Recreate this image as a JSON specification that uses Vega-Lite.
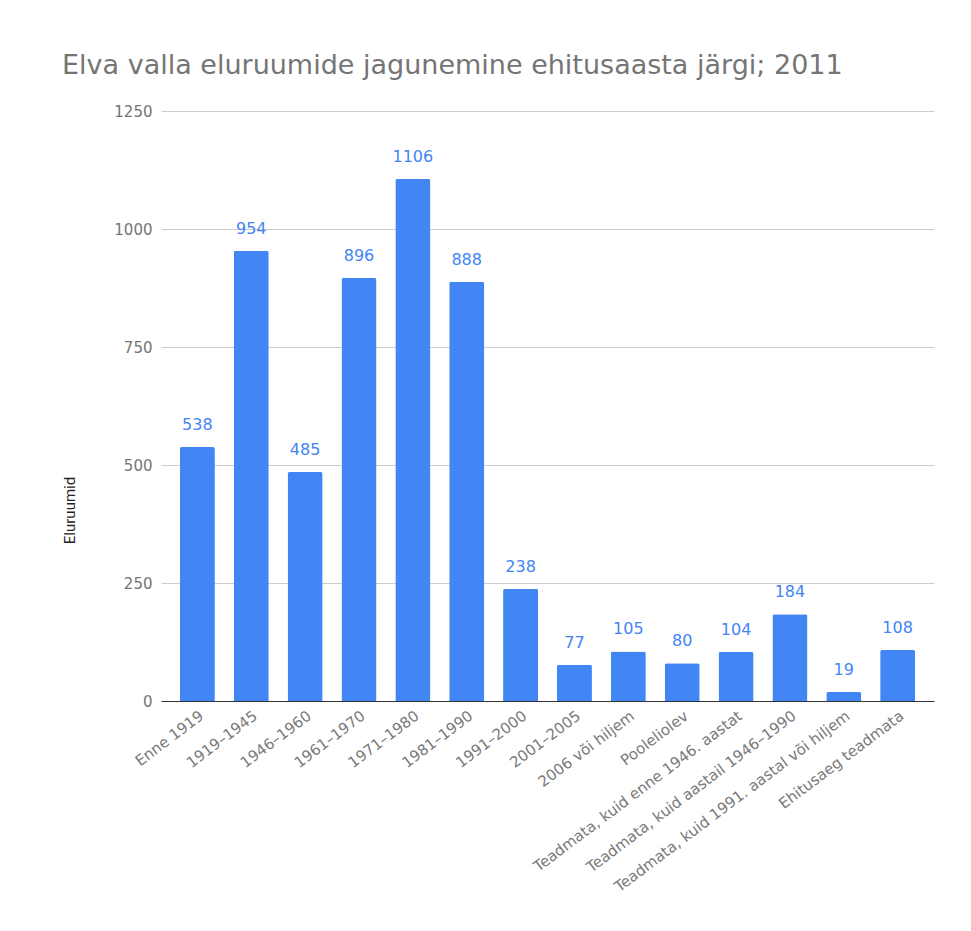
{
  "$schema": "https://vega.github.io/schema/vega-lite/v6.json",
  "width": 773,
  "height": 590,
  "padding": {"left": 62, "top": 52, "right": 36, "bottom": 5},
  "background": "white",
  "title": {
    "text": "Elva valla eluruumide jagunemine ehitusaasta järgi; 2011",
    "anchor": "start",
    "frame": "bounds",
    "font": "DejaVu Sans",
    "fontSize": 27,
    "fontWeight": "normal",
    "color": "#757575",
    "offset": 24
  },
  "data": {
    "values": [
      {"periood": "Enne 1919", "eluruumid": 538},
      {"periood": "1919–1945", "eluruumid": 954},
      {"periood": "1946–1960", "eluruumid": 485},
      {"periood": "1961–1970", "eluruumid": 896},
      {"periood": "1971–1980", "eluruumid": 1106},
      {"periood": "1981–1990", "eluruumid": 888},
      {"periood": "1991–2000", "eluruumid": 238},
      {"periood": "2001–2005", "eluruumid": 77},
      {"periood": "2006 või hiljem", "eluruumid": 105},
      {"periood": "Pooleliolev", "eluruumid": 80},
      {"periood": "Teadmata, kuid enne 1946. aastat", "eluruumid": 104},
      {"periood": "Teadmata, kuid aastail 1946–1990", "eluruumid": 184},
      {"periood": "Teadmata, kuid 1991. aastal või hiljem", "eluruumid": 19},
      {"periood": "Ehitusaeg teadmata", "eluruumid": 108}
    ]
  },
  "encoding": {
    "x": {
      "field": "periood",
      "type": "nominal",
      "sort": null,
      "scale": {"paddingInner": 0.35, "paddingOuter": 0.35},
      "axis": {
        "title": null,
        "labelAngle": -37,
        "labelFont": "DejaVu Sans",
        "labelFontSize": 15,
        "labelColor": "#7a7a7a",
        "labelPadding": 7,
        "ticks": false,
        "domainColor": "#333333",
        "domainWidth": 1,
        "labelLimit": 400
      }
    },
    "y": {
      "field": "eluruumid",
      "type": "quantitative",
      "scale": {"domain": [0, 1250]},
      "axis": {
        "title": "Eluruumid",
        "titleFont": "Roboto",
        "titleFontSize": 15,
        "titleFontWeight": "normal",
        "titleColor": "#222222",
        "titleX": -92,
        "titleY": 399,
        "titleAngle": -90,
        "titleAlign": "center",
        "titleBaseline": "middle",
        "values": [0, 250, 500, 750, 1000, 1250],
        "format": "d",
        "labelFont": "DejaVu Sans",
        "labelFontSize": 15,
        "labelColor": "#757575",
        "labelPadding": 9,
        "ticks": false,
        "domain": false,
        "gridColor": "#cccccc",
        "gridWidth": 1
      }
    }
  },
  "layer": [
    {
      "mark": {"type": "bar", "color": "#4285f4", "cornerRadiusTopLeft": 2, "cornerRadiusTopRight": 2}
    },
    {
      "mark": {"type": "text", "color": "#4285f4", "font": "DejaVu Sans", "fontSize": 16, "dy": -17, "baseline": "alphabetic"},
      "encoding": {"text": {"field": "eluruumid", "type": "quantitative"}}
    }
  ],
  "config": {"view": {"stroke": null}}
}
